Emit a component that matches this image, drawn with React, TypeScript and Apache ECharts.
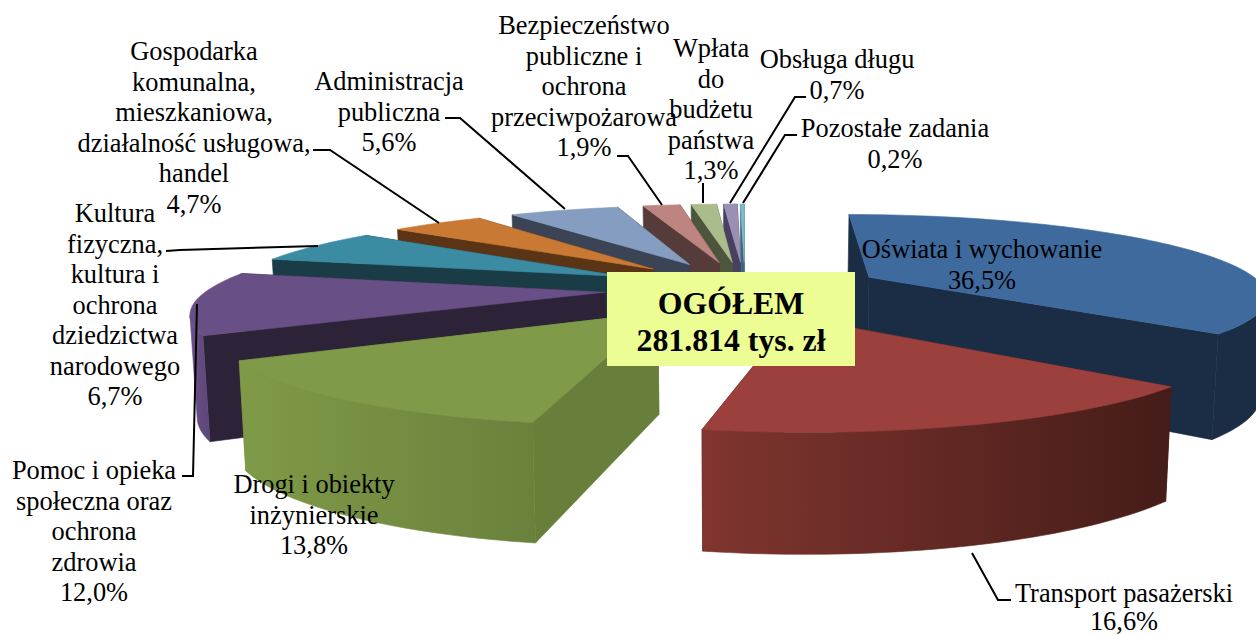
import React, { useEffect, useRef } from "react";
import * as echarts from "echarts";

const names = [
  "Oświata i wychowanie",
  "Transport pasażerski",
  "Drogi i obiekty inżynierskie",
  "Pomoc i opieka społeczna oraz ochrona zdrowia",
  "Kultura fizyczna, kultura i ochrona dziedzictwa narodowego",
  "Gospodarka komunalna, mieszkaniowa, działalność usługowa, handel",
  "Administracja publiczna",
  "Bezpieczeństwo publiczne i ochrona przeciwpożarowa",
  "Wpłata do budżetu państwa",
  "Obsługa długu",
  "Pozostałe zadania",
];
const shares = [36.5, 16.6, 13.8, 12.0, 6.7, 4.7, 5.6, 1.9, 1.3, 0.7, 0.2];
const topColors = ["#3f6a9e", "#9b403d", "#7f9a48", "#684f86", "#3b8ba2", "#c97934", "#859dc0", "#bd8480", "#abbc8c", "#9c8fb4", "#7cb8cf"];
const sideColors = ["#1b2d44", "#451c18", "#677f3a", "#2d2338", "#1a3c47", "#5a3415", "#3a4454", "#553b39", "#4d563c", "#474060", "#3d6a78"];
const wallLeft = ["#1b2d44", "#80352f", "#7f9a47", "#6a5088", "#1a3c47", "#5a3415", "#3a4454", "#553b39", "#4d563c", "#474060", "#3d6a78"];
const wallRight = ["#1b2d44", "#451c18", "#6a813c", "#5d4679", "#1a3c47", "#5a3415", "#3a4454", "#553b39", "#4d563c", "#474060", "#3d6a78"];
const paintOrder = [10, 9, 8, 7, 6, 5, 4, 3, 0, 2, 1];

const labels = [
  { lines: ["Oświata i wychowanie", "36,5%"], x: 982, y: 249 },
  { lines: ["Transport pasażerski", "16,6%"], x: 1124, y: 593, step: 27.5 },
  { lines: ["Drogi i obiekty", "inżynierskie", "13,8%"], x: 314, y: 484 },
  { lines: ["Pomoc i opieka", "społeczna oraz", "ochrona", "zdrowia", "12,0%"], x: 94, y: 470 },
  { lines: ["Kultura", "fizyczna,", "kultura i", "ochrona", "dziedzictwa", "narodowego", "6,7%"], x: 115, y: 213 },
  { lines: ["Gospodarka", "komunalna,", "mieszkaniowa,", "działalność usługowa,", "handel", "4,7%"], x: 194, y: 51 },
  { lines: ["Administracja", "publiczna", "5,6%"], x: 389, y: 81 },
  { lines: ["Bezpieczeństwo", "publiczne i", "ochrona", "przeciwpożarowa", "1,9%"], x: 584, y: 25 },
  { lines: ["Wpłata", "do", "budżetu", "państwa", "1,3%"], x: 711, y: 48 },
  { lines: ["Obsługa długu", "0,7%"], x: 837, y: 59 },
  { lines: ["Pozostałe zadania", "0,2%"], x: 895, y: 128 },
];
const leaders = [
  [[1011, 600], [998, 600], [972, 553]],
  [[182, 476], [193, 476], [197, 304]],
  [[166, 251], [180, 250], [318, 246]],
  [[313, 150], [330, 150], [439, 223]],
  [[445, 118], [460, 118], [565, 209]],
  [[617, 156], [628, 156], [662, 205]],
  [[703, 183], [703, 203]],
  [[806, 97], [795, 97], [730, 203]],
  [[797, 135], [785, 135], [743, 203]],
];
const totalLines = ["OGÓŁEM", "281.814 tys. zł"];

const CX = 745, CY = 288.5, A = 140, B = 28, K = 0.07, R = 2.83;
const rad = (d: number) => (d * Math.PI) / 180;
const project = (X: number, Y: number) => {
  const w = 1 + K * Y;
  return { x: CX + (A * X) / w, y: CY - (B * Y) / w, w };
};
const topPt = (mid: number, th: number, r: number) => {
  const p = project(Math.sin(rad(mid)) + r * Math.sin(rad(th)), Math.cos(rad(mid)) + r * Math.cos(rad(th)));
  return [p.x, p.y];
};
const botPt = (mid: number, th: number, r: number) => {
  const p = project(Math.sin(rad(mid)) + r * Math.sin(rad(th)), Math.cos(rad(mid)) + r * Math.cos(rad(th)));
  return [CX + (p.x - CX) * 0.987, p.y + 31 + 67 / p.w];
};

const total = shares.reduce((a, b) => a + b, 0);
const starts: number[] = [];
shares.reduce((acc, v, i) => {
  starts[i] = (acc / total) * 360;
  return acc + v;
}, 0);
const seriesData = paintOrder.map((i) => [starts[i], starts[i] + (shares[i] / total) * 360, i]);

function renderItem(_p: any, api: any) {
  const a0 = api.value(0), a1 = api.value(1), idx = api.value(2);
  const mid = (a0 + a1) / 2;
  const n = Math.max(4, Math.ceil((a1 - a0) / 1.5));
  const ths = Array.from({ length: n + 1 }, (_, j) => a0 + ((a1 - a0) * j) / n);
  const arcTop = ths.map((t) => topPt(mid, t, R));
  const arcBot = ths.map((t) => botPt(mid, t, R));
  const apexT = topPt(mid, 0, 0), apexB = botPt(mid, 0, 0);
  const poly = (points: number[][], fill: any, stroke?: any) => ({
    type: "polygon",
    shape: { points },
    style: { fill, stroke: stroke || fill, lineWidth: 0.6 },
  });
  // only the part of the rim that faces the viewer (x falling as the angle grows)
  const front: number[] = [];
  for (let j = 0; j <= n; j++) {
    const falling =
      (j < n && arcTop[j + 1][0] < arcTop[j][0]) || (j > 0 && arcTop[j][0] < arcTop[j - 1][0]);
    if (falling) front.push(j);
  }
  const children: any[] = [
    poly([apexT, arcTop[0], arcBot[0], apexB], sideColors[idx]),
    poly([apexT, arcTop[n], arcBot[n], apexB], sideColors[idx]),
  ];
  if (front.length > 1) {
    const t = front.map((j) => arcTop[j]);
    const b = front.map((j) => arcBot[j]);
    const xs = [...t, ...b].map((p) => p[0]);
    const grad = () =>
      new echarts.graphic.LinearGradient(Math.min(...xs), 0, Math.max(...xs), 0, [
        { offset: 0, color: wallLeft[idx] },
        { offset: 1, color: wallRight[idx] },
      ], true);
    children.push(poly([...t, ...[...b].reverse()], grad(), grad()));
  }
  children.push(poly([apexT, ...arcTop], topColors[idx]));
  return { type: "group", children };
}

const FONT = '"Liberation Serif", "Times New Roman", serif';

export default function App() {
  const ref = useRef<HTMLDivElement>(null);
  useEffect(() => {
    const chart = echarts.init(ref.current!, undefined, { renderer: "svg" });
    const graphic: any[] = [];
    leaders.forEach((points) => {
      graphic.push({
        type: "polyline",
        z: 20,
        shape: { points },
        style: { stroke: "#000", lineWidth: 2, fill: "none" },
      });
    });
    labels.forEach((l: any) => {
      l.lines.forEach((t: string, i: number) => {
        graphic.push({
          type: "text",
          z: 30,
          x: l.x,
          y: l.y + i * (l.step || 30.5),
          style: { text: t, fill: "#000", font: `26.4px ${FONT}`, align: "center", verticalAlign: "middle" },
        });
      });
    });
    graphic.push({
      type: "rect",
      z: 40,
      shape: { x: 607, y: 272, width: 248, height: 94 },
      style: { fill: "#ebfd93" },
    });
    totalLines.forEach((t, i) => {
      graphic.push({
        type: "text",
        z: 41,
        x: 731,
        y: 303 + i * 37,
        style: { text: t, fill: "#000", font: `bold 31.8px ${FONT}`, align: "center", verticalAlign: "middle" },
      });
    });
    chart.setOption({
      animation: false,
      backgroundColor: "#ffffff",
      graphic,
      series: [
        {
          type: "custom",
          coordinateSystem: "none",
          silent: true,
          clip: false,
          z: 5,
          renderItem,
          data: seriesData,
        },
      ],
    });
    return () => chart.dispose();
  }, []);
  return <div ref={ref} style={{ position: "fixed", left: 0, top: 0, width: 1256, height: 635 }} aria-label={names.join("; ")} />;
}
